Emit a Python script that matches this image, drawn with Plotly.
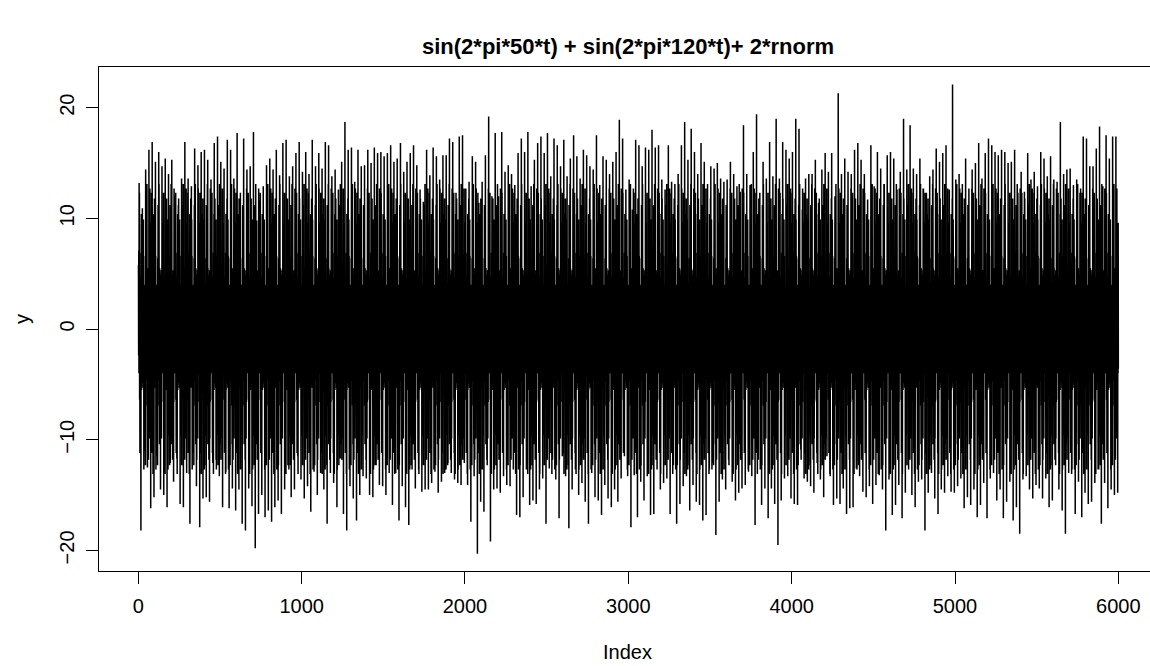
import plotly.graph_objects as go

# Signal series: sample index 1..6000, summarised per 20-sample block by its
# highest and lowest excursion; the remaining samples swing inside the noise band.
BLOCK = 20

UP_PEAKS = [
    13.2, 10.9, 14.4, 16.2, 16.9, 15.1, 16.0, 14.7, 15.4, 14.0,
    15.3, 12.0, 11.2, 13.6, 16.9, 13.6, 12.9, 16.3, 14.8, 16.0,
    16.2, 15.3, 13.5, 16.8, 17.4, 15.1, 14.5, 17.1, 16.2, 13.6,
    17.7, 12.3, 17.2, 14.4, 14.7, 17.8, 9.8, 11.6, 12.9, 14.8,
    15.4, 14.4, 16.2, 13.9, 16.8, 17.1, 13.8, 14.7, 15.9, 16.9,
    14.2, 16.0, 14.0, 17.1, 14.7, 15.9, 14.5, 16.9, 16.6, 13.8,
    14.4, 12.6, 15.1, 18.7, 16.2, 16.4, 13.3, 16.2, 14.7, 14.8,
    16.2, 15.0, 16.4, 15.9, 16.0, 15.6, 15.9, 16.6, 15.1, 15.4,
    16.8, 14.2, 15.1, 15.9, 16.6, 14.8, 12.6, 11.5, 16.2, 13.9,
    16.4, 15.6, 13.5, 15.7, 15.7, 17.2, 16.9, 12.3, 17.4, 17.5,
    12.7, 13.3, 15.6, 15.1, 11.4, 13.3, 15.7, 19.2, 12.0, 17.7,
    12.0, 17.8, 14.2, 14.8, 14.0, 13.0, 15.9, 17.2, 16.0, 17.8,
    12.9, 15.3, 16.8, 17.4, 15.9, 17.7, 13.8, 17.2, 16.6, 14.7,
    17.1, 13.8, 15.4, 17.5, 15.6, 13.6, 16.2, 15.7, 14.7, 14.4,
    17.5, 13.0, 15.6, 15.3, 14.0, 15.1, 16.0, 18.9, 17.2, 12.6,
    13.5, 10.8, 17.1, 16.6, 14.7, 16.4, 16.2, 18.0, 16.4, 16.6,
    13.5, 12.6, 16.6, 13.3, 13.1, 14.0, 16.6, 18.7, 15.3, 18.1,
    16.0, 14.0, 16.8, 15.1, 13.1, 14.7, 14.5, 15.0, 13.6, 13.3,
    13.5, 15.1, 14.0, 12.9, 12.4, 18.4, 14.0, 13.0, 16.0, 19.4,
    12.3, 15.1, 13.6, 16.9, 13.8, 19.0, 13.6, 16.9, 16.2, 15.4,
    16.0, 19.0, 18.1, 10.8, 13.6, 14.0, 14.0, 15.3, 11.4, 14.4,
    15.9, 14.2, 15.9, 12.0, 21.3, 14.0, 15.4, 14.2, 14.0, 16.2,
    16.8, 15.3, 14.0, 11.7, 16.6, 12.9, 16.0, 14.5, 13.1, 15.7,
    16.0, 15.4, 12.6, 14.2, 19.0, 14.4, 18.4, 14.5, 14.0, 15.4,
    12.7, 12.3, 13.8, 14.4, 16.3, 15.1, 15.9, 16.6, 12.6, 22.1,
    13.5, 14.0, 13.1, 15.4, 12.7, 14.4, 15.0, 16.8, 13.6, 15.9,
    17.2, 16.6, 16.0, 15.7, 16.2, 16.0, 15.0, 15.1, 16.2, 12.3,
    14.2, 12.4, 15.9, 13.5, 14.2, 12.9, 16.0, 15.4, 13.8, 15.6,
    13.5, 13.3, 18.7, 14.0, 14.4, 14.5, 13.0, 13.5, 12.3, 17.4,
    17.2, 14.7, 14.7, 16.3, 18.3, 12.9, 17.5, 15.4, 17.4, 17.4,
]

DOWN_PEAKS = [
    -18.2, -11.0, -12.5, -16.2, -15.2, -11.5, -14.5, -15.0, -16.1, -12.1,
    -13.8, -11.7, -15.8, -16.1, -13.0, -17.6, -11.2, -14.2, -17.9, -15.3,
    -15.2, -15.6, -12.1, -11.8, -13.3, -16.1, -12.9, -16.2, -14.4, -16.4,
    -14.5, -17.6, -18.2, -14.4, -16.0, -19.8, -16.7, -15.0, -17.0, -16.4,
    -17.4, -16.1, -15.5, -16.7, -14.5, -12.3, -15.2, -14.5, -11.5, -13.6,
    -15.3, -14.2, -16.5, -12.9, -15.0, -13.0, -14.5, -17.6, -13.0, -13.9,
    -16.1, -11.7, -16.7, -18.2, -14.2, -15.3, -17.3, -15.0, -13.3, -13.5,
    -15.0, -15.2, -12.3, -14.1, -14.2, -15.0, -13.0, -15.9, -13.0, -17.3,
    -14.2, -16.1, -17.7, -12.7, -14.4, -12.7, -14.7, -14.5, -14.5, -13.9,
    -12.9, -14.8, -13.8, -13.0, -12.1, -13.0, -13.6, -13.9, -14.1, -12.1,
    -14.1, -17.4, -13.3, -20.3, -15.6, -16.5, -12.3, -19.2, -14.5, -14.4,
    -14.8, -13.3, -14.1, -14.2, -12.7, -16.8, -17.0, -15.2, -12.7, -15.9,
    -15.5, -15.8, -14.5, -13.5, -17.6, -12.6, -11.8, -13.6, -17.1, -11.5,
    -13.3, -18.0, -14.5, -12.7, -15.0, -13.9, -15.6, -17.6, -13.0, -15.2,
    -15.5, -16.8, -14.1, -15.3, -16.1, -14.5, -15.6, -13.5, -11.5, -13.3,
    -17.9, -13.2, -17.0, -13.8, -15.5, -13.3, -16.8, -16.7, -12.7, -14.5,
    -13.9, -13.5, -16.7, -12.3, -17.6, -15.8, -14.2, -13.3, -16.4, -14.1,
    -15.6, -15.9, -17.3, -16.8, -12.7, -12.1, -18.6, -15.6, -13.6, -14.5,
    -12.3, -13.8, -15.5, -14.8, -14.4, -14.1, -12.9, -13.3, -17.7, -11.8,
    -15.9, -14.4, -17.1, -14.4, -15.8, -19.5, -15.5, -13.5, -13.3, -15.3,
    -15.8, -15.9, -10.9, -13.5, -13.8, -14.2, -14.8, -12.1, -13.6, -15.2,
    -11.5, -13.3, -15.9, -15.3, -15.8, -14.4, -16.7, -16.2, -16.1, -12.6,
    -13.3, -14.7, -15.2, -14.2, -15.8, -14.1, -13.2, -14.5, -18.2, -13.6,
    -16.8, -15.9, -14.1, -17.1, -14.8, -12.7, -15.0, -16.1, -13.8, -13.6,
    -18.2, -14.8, -13.0, -15.3, -16.7, -14.5, -14.8, -13.3, -14.7, -14.8,
    -14.2, -13.5, -16.2, -15.2, -15.9, -14.5, -17.0, -15.9, -13.9, -17.1,
    -13.5, -13.0, -15.5, -14.5, -17.1, -15.6, -13.8, -17.3, -16.1, -18.5,
    -13.6, -13.3, -14.5, -15.3, -14.1, -14.4, -15.3, -13.5, -16.1, -15.5,
    -12.3, -14.5, -16.4, -18.5, -13.0, -12.7, -16.7, -13.8, -17.0, -14.8,
    -15.8, -15.6, -13.9, -12.7, -17.6, -13.9, -16.2, -14.5, -15.0, -14.8,
]

# Typical swings of the samples inside the dense noise band
BAND_LEVELS = [
    3.2, 5.8, 2.4, 7.1, 4.0, 9.6, 3.6, 12.3, 6.4, 4.7,
    11.2, 2.9, 5.1, 3.8, 8.3, 2.6, 13.1, 6.9, 3.1, 10.4,
    5.5, 2.2, 4.1, 7.7, 3.4, 11.8, 2.8, 8.9, 4.9, 3.0,
    5.3, 9.9, 2.5, 6.6, 12.7, 3.7, 4.5,
]

X_TICKS = [0, 1000, 2000, 3000, 4000, 5000, 6000]
Y_TICKS = [-20, -10, 0, 10, 20]

TITLE = "sin(2*pi*50*t) + sin(2*pi*120*t)+ 2*rnorm"

index = []
y = []
n = 0
for hi, lo in zip(UP_PEAKS, DOWN_PEAKS):
    for j in range(BLOCK):
        n += 1
        if j == 4:
            v = hi
        elif j == 15:
            v = lo
        else:
            lvl = BAND_LEVELS[n % len(BAND_LEVELS)]
            v = lvl if j % 2 == 0 else -lvl
        index.append(n)
        y.append(v)

FONT = "Liberation Sans, Arial, Helvetica, sans-serif"

fig = go.Figure()
fig.add_trace(go.Scatter(
    x=index, y=y, mode="lines",
    line=dict(color="black", width=1.5, simplify=False),
    hoverinfo="skip", showlegend=False,
))

fig.update_layout(
    width=1150, height=666,
    margin=dict(l=99, r=0, t=67, b=95),
    paper_bgcolor="white", plot_bgcolor="white",
    font=dict(family=FONT, color="black", size=20),
    showlegend=False,
)

fig.update_xaxes(
    range=[-240.6, 6193.8],
    tickvals=X_TICKS, ticktext=[str(v) for v in X_TICKS],
    ticks="outside", ticklen=12, tickwidth=1, tickcolor="black",
    showline=True, linecolor="black", linewidth=1, mirror=True,
    showgrid=False, zeroline=False,
    tickfont=dict(size=20, family=FONT),
    ticklabelstandoff=5,
)
fig.update_yaxes(
    range=[-21.86, 23.67],
    tickvals=Y_TICKS, ticktext=[str(v).replace("-", "\u2212") for v in Y_TICKS],
    ticks="outside", ticklen=12, tickwidth=1, tickcolor="black",
    showline=True, linecolor="black", linewidth=1, mirror=False,
    showgrid=False, zeroline=False,
    tickangle=-90,
    tickfont=dict(size=20, family=FONT),
    ticklabelstandoff=4,
)

fig.add_annotation(
    text="<b>" + TITLE + "</b>", xref="paper", yref="paper",
    x=0.5033, y=(571 - 47) / 504, xanchor="center", yanchor="middle",
    showarrow=False, font=dict(size=22, family=FONT),
)
fig.add_annotation(
    text="Index", xref="paper", yref="paper",
    x=0.5033, y=(571 - 652) / 504, xanchor="center", yanchor="middle",
    showarrow=False, font=dict(size=20, family=FONT),
)
fig.add_annotation(
    text="y", xref="paper", yref="paper",
    x=(22 - 99) / 1051, y=0.5, xanchor="center", yanchor="middle",
    textangle=-90, showarrow=False, font=dict(size=20, family=FONT),
)

fig.write_html("out.html")
